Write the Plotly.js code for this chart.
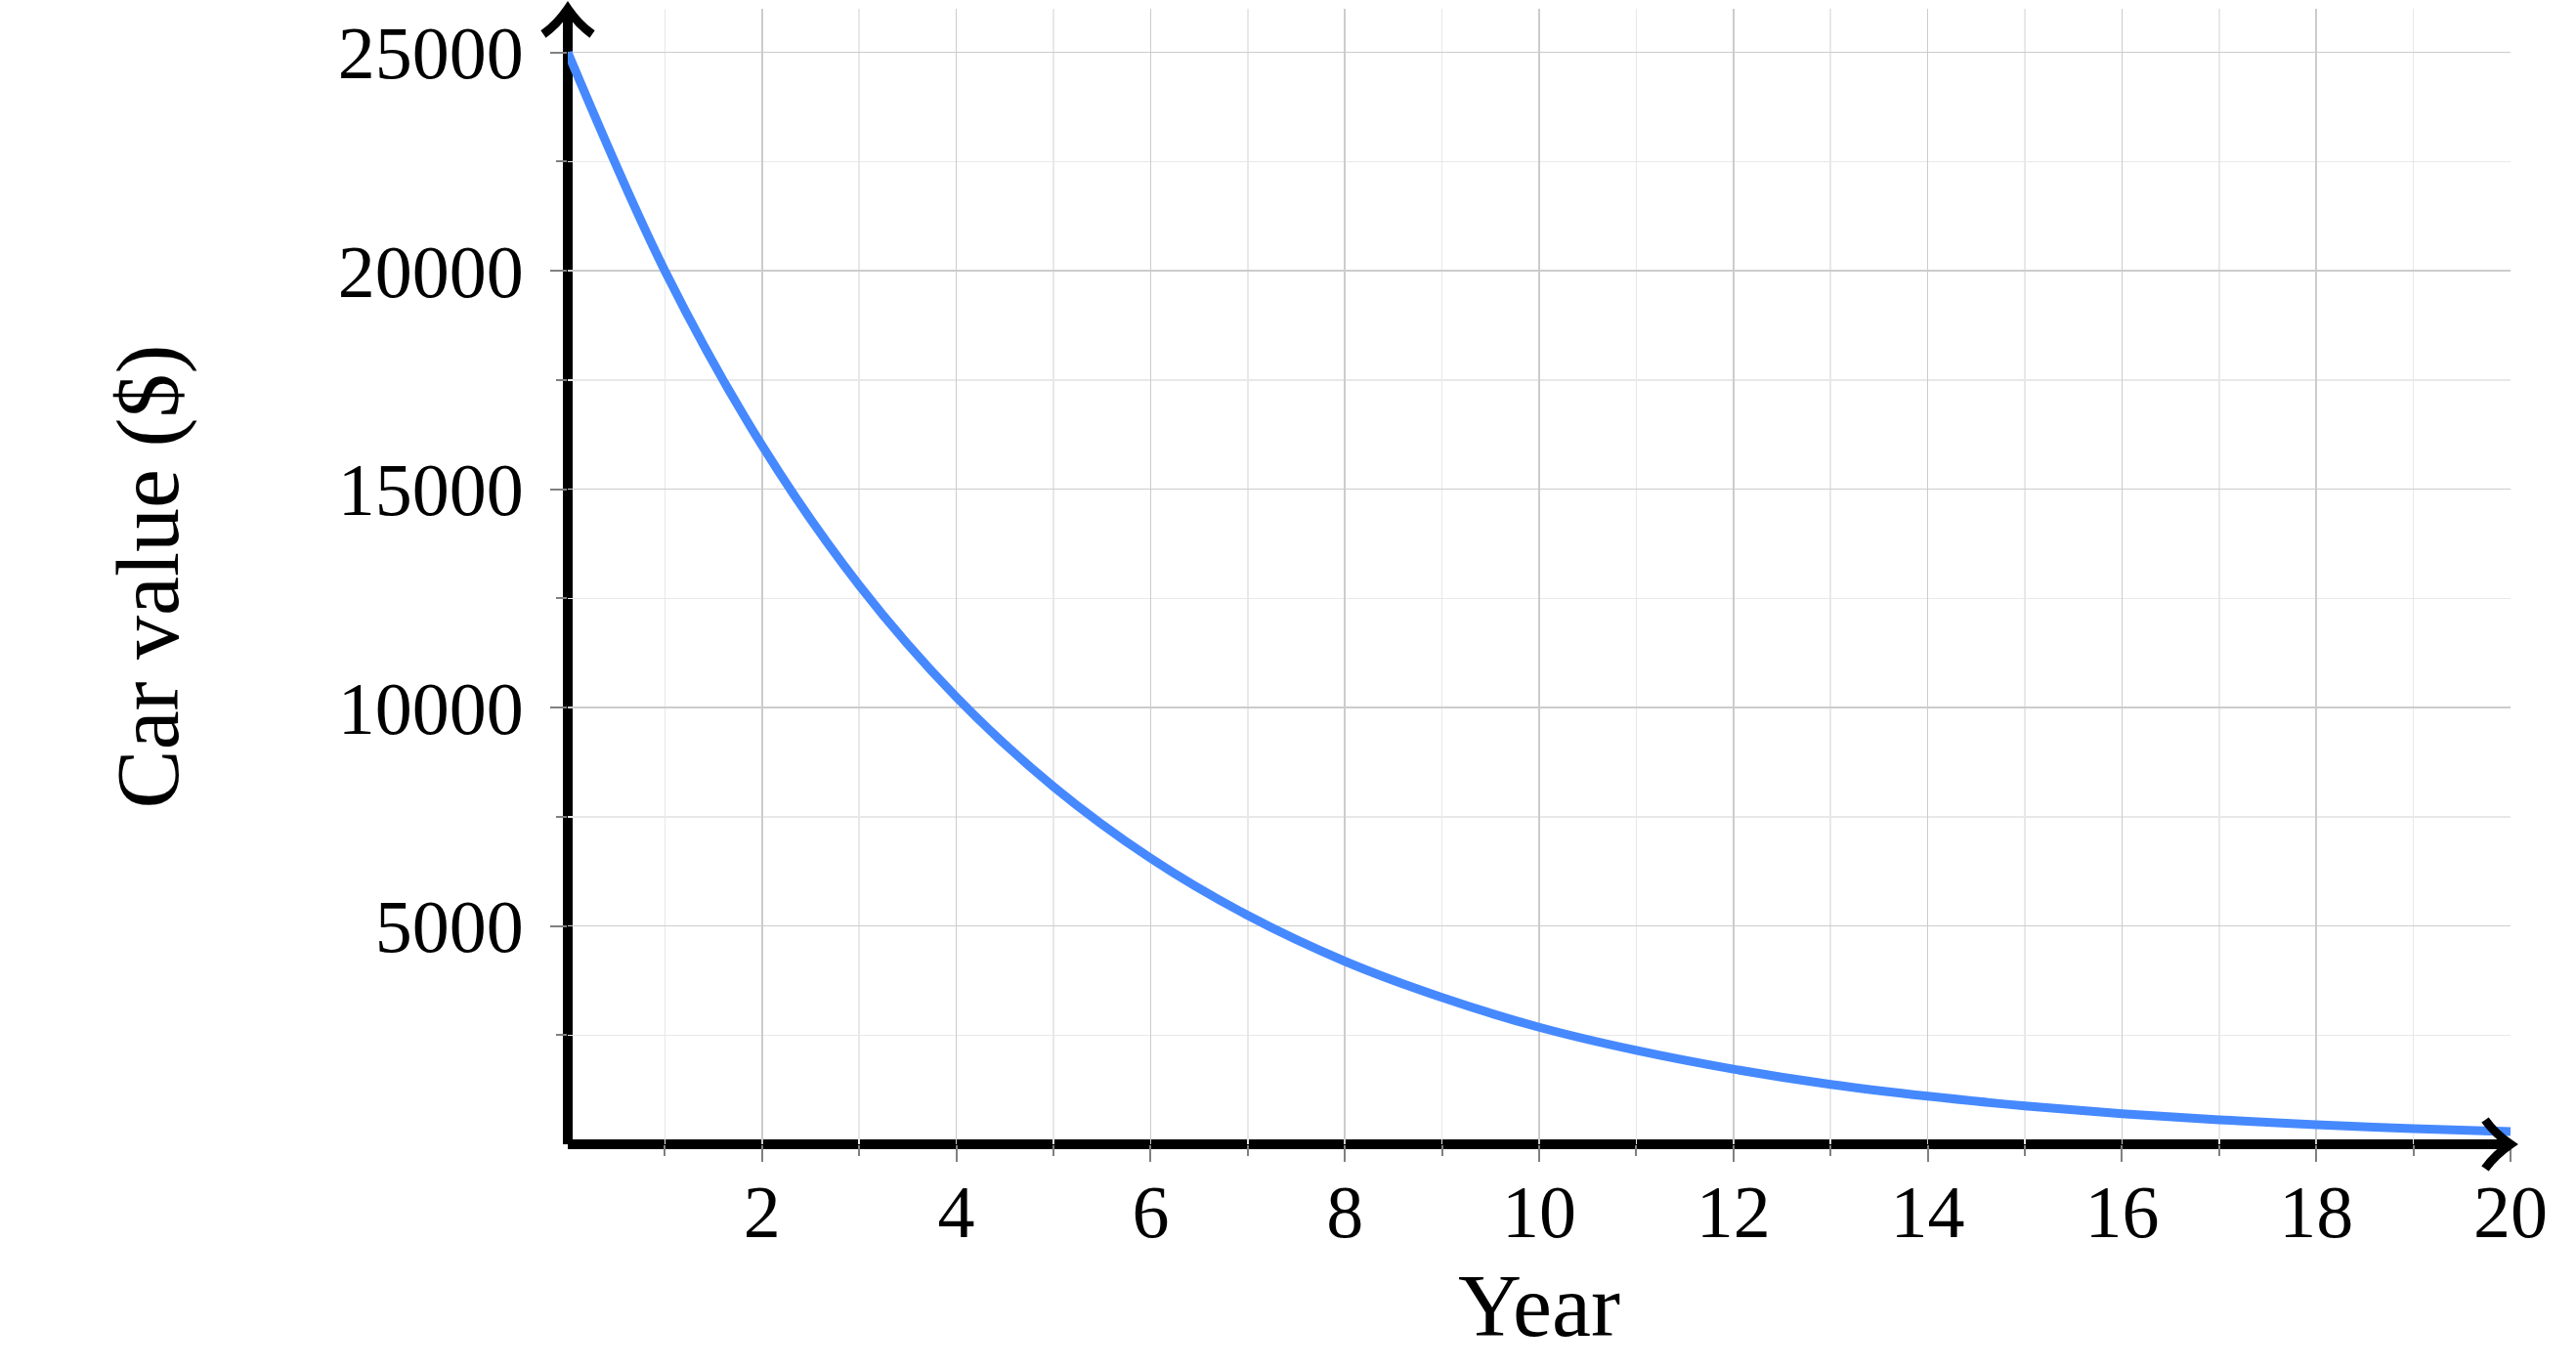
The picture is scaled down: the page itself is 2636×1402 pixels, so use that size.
<!DOCTYPE html>
<html>
<head>
<meta charset="utf-8">
<script src="https://cdn.plot.ly/plotly-3.0.1.min.js"></script>
<style>
html,body{margin:0;padding:0;background:#fff;}
#chart{width:2636px;height:1402px;}
</style>
</head>
<body>
<div id="chart"></div>
<script>
// Data
const years = [0,1,2,3,4,5,6,7,8,9,10,11,12,13,14,15,16,17,18,19,20];
const carValue = [25000,20000,16000,12800,10240,8190,6550,5240,4190,3360,2680,2150,1720,1370,1100,880,700,560,450,360,290];
const xTickVals = [2,4,6,8,10,12,14,16,18,20];
const xTickText = ['2','4','6','8','10','12','14','16','18','20'];
const yTickVals = [5000,10000,15000,20000,25000];
const yTickText = ['5000','10000','15000','20000','25000'];
const xTitle = 'Year';
const yTitle = 'Car value ($)';

const FONT = 'Liberation Serif, Times New Roman, serif';
const xRange = [0, 20];
const yRange = [0, 26000];
const majorGrid = '#cccccc';
const minorGrid = '#e8e8e8';
const tickCol = '#808080';

const trace = {
  x: years, y: carValue, type: 'scatter', mode: 'lines',
  line: {color: '#4689ff', width: 9, shape: 'spline', smoothing: 1},
  cliponaxis: false, hoverinfo: 'skip', showlegend: false
};

const chevron = 'M -25 -26 Q -11 -16 0 0 Q 11 -16 25 -26';       // pointing up
const chevronRight = 'M -26 25 Q -16 11 0 0 Q -16 -11 -26 -25';  // pointing right

const layout = {
  width: 2636, height: 1402,
  margin: {l: 581, r: 67, t: 9, b: 231, pad: 0},
  paper_bgcolor: '#fff', plot_bgcolor: '#fff',
  font: {family: FONT, size: 76, color: '#000'},
  showlegend: false,
  xaxis: {
    range: xRange, fixedrange: true,
    tickmode: 'array', tickvals: xTickVals, ticktext: xTickText,
    ticks: 'outside', ticklen: 17, tickwidth: 2, tickcolor: tickCol,
    showgrid: true, gridcolor: majorGrid, gridwidth: 1.5,
    zeroline: false, showline: false,
    tickfont: {family: FONT, size: 76, color: '#000'},
    ticklabelstandoff: -14,
    minor: {tickmode: 'linear', tick0: 1, dtick: 2, ticks: 'outside', ticklen: 11, tickwidth: 2, tickcolor: tickCol,
            showgrid: true, gridcolor: minorGrid, gridwidth: 1.5},
    title: {text: xTitle, font: {family: FONT, size: 90, color: '#000'}, standoff: 22}
  },
  yaxis: {
    range: yRange, fixedrange: true,
    tickmode: 'array', tickvals: yTickVals, ticktext: yTickText,
    ticks: 'outside', ticklen: 17, tickwidth: 2, tickcolor: tickCol,
    showgrid: true, gridcolor: majorGrid, gridwidth: 1.5,
    zeroline: false, showline: false,
    tickfont: {family: FONT, size: 76, color: '#000'},
    ticklabelstandoff: 12,
    minor: {tickmode: 'linear', tick0: 2500, dtick: 5000, ticks: 'outside', ticklen: 11, tickwidth: 2, tickcolor: tickCol,
            showgrid: true, gridcolor: minorGrid, gridwidth: 1.5},
    title: {text: yTitle, font: {family: FONT, size: 90, color: '#000'}, standoff: 133}
  },
  xaxis2: {
    overlaying: 'x', anchor: 'y', side: 'bottom', range: xRange, fixedrange: true,
    tickmode: 'array', tickvals: xTickVals, showticklabels: false,
    ticks: 'inside', ticklen: 17, tickwidth: 2, tickcolor: tickCol,
    showgrid: false, zeroline: false, showline: false,
    minor: {tickmode: 'linear', tick0: 1, dtick: 2, ticks: 'inside', ticklen: 11, tickwidth: 2, tickcolor: tickCol, showgrid: false}
  },
  yaxis2: {
    overlaying: 'y', anchor: 'x', side: 'left', range: yRange, fixedrange: true,
    tickmode: 'array', tickvals: yTickVals, showticklabels: false,
    ticks: 'inside', ticklen: 17, tickwidth: 2, tickcolor: tickCol,
    showgrid: false, zeroline: false, showline: false,
    minor: {tickmode: 'linear', tick0: 2500, dtick: 5000, ticks: 'inside', ticklen: 11, tickwidth: 2, tickcolor: tickCol, showgrid: false}
  },
  shapes: [
    // axis lines (paper-referenced so they are not clipped)
    {type: 'line', xref: 'paper', yref: 'paper', x0: 0, x1: 0, y0: 0, y1: 1,
     line: {color: '#000', width: 10}, layer: 'between'},
    {type: 'line', xref: 'paper', yref: 'paper', x0: 0, x1: 1, y0: 0, y1: 0,
     line: {color: '#000', width: 10}, layer: 'between'},
    // arrow tips
    {type: 'path', xref: 'paper', yref: 'paper', xsizemode: 'pixel', ysizemode: 'pixel',
     xanchor: 0, yanchor: 1, path: chevron, line: {color: '#000', width: 9}, layer: 'above'},
    {type: 'path', xref: 'paper', yref: 'paper', xsizemode: 'pixel', ysizemode: 'pixel',
     xanchor: 1, yanchor: 0, path: chevronRight, line: {color: '#000', width: 9}, layer: 'above'}
  ]
};

Plotly.newPlot('chart', [trace], layout, {staticPlot: true, displayModeBar: false});
</script>
</body>
</html>
